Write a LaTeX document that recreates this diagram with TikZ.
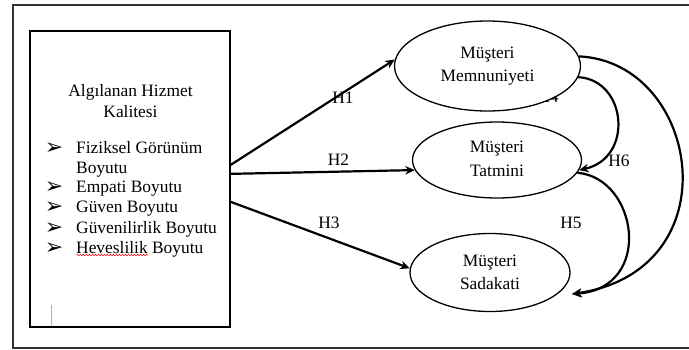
\documentclass[tikz,border=0pt]{standalone}
\usepackage{fontspec}
\setmainfont{Liberation Serif}
\newfontfamily\dejavu{DejaVu Sans}
\usetikzlibrary{shapes.geometric,arrows.meta,decorations.pathmorphing}
\tikzset{
  txt/.style={font=\fontsize{17.4}{20}\selectfont, inner sep=0pt},
  itemtxt/.style={txt, anchor=base west},
  bul/.style={font=\dejavu\fontsize{22}{22}\selectfont, inner sep=0pt, anchor=base},
  hlab/.style={txt},
  construct/.style={ellipse, draw, line width=1.3pt, fill=white, inner sep=0pt,
    align=center, font=\fontsize{17.4}{23}\selectfont},
  link/.style={line width=2.2pt, -{Stealth[length=9.5pt,width=8.5pt]}},
}
\begin{document}
\begin{tikzpicture}[x=1pt,y=-1pt]
\useasboundingbox (0,0) rectangle (689,349);
\clip (0,0) rectangle (689,349);
\fill[white] (0,0) rectangle (689,349);
% outer frame
\draw[line width=1.6pt, black!80] (13,5) rectangle (720,348);
% left box
\node[draw, line width=2pt, minimum width=200pt, minimum height=296pt, inner sep=0pt] (aq) at (129.75,178.85) {};
\draw[gray!60, line width=0.6pt] (51,305) -- (51,326);
\node[txt, align=center, font=\fontsize{17.4}{21}\selectfont] (title) at (130.5,101.5) {Algılanan Hizmet\\Kalitesi};
\node[bul] (b1) at (54,154) {➢};
\node[itemtxt] (t1) at (76,153) {Fiziksel Görünüm};
\node[itemtxt] (t1b) at (76,173) {Boyutu};
\node[bul] (b2) at (54,193) {➢};
\node[itemtxt] (t2) at (76,192) {Empati Boyutu};
\node[bul] (b3) at (54,213) {➢};
\node[itemtxt] (t3) at (76,212) {Güven Boyutu};
\node[bul] (b4) at (54,234) {➢};
\node[itemtxt] (t4) at (76,233) {Güvenilirlik Boyutu};
\node[bul] (b5) at (54,254) {➢};
\node[itemtxt] (t5) at (76,253) {Heveslilik Boyutu};
\draw[red, line width=0.5pt, decorate, decoration={snake, amplitude=0.8pt, segment length=3pt}] (76.5,255) -- (148,255);
% H4 label (mostly hidden by the ellipse)
\node[hlab] (h4) at (548,97) {H4};
% ellipses
\node[construct, minimum width=186pt, minimum height=90pt] (m1) at (487.5,66) {Müşteri\\Memnuniyeti};
\node[construct, minimum width=169pt, minimum height=76pt] (m2) at (497,160) {\raisebox{-4pt}{\begin{tabular}{@{}c@{}}Müşteri\\[1pt]Tatmini\end{tabular}}};
\node[construct, minimum width=160pt, minimum height=78pt] (m3) at (490,272.5) {Müşteri\\Sadakati};
\coordinate (s5) at (572,294);
% straight links
\draw[link] ([yshift=14pt]aq.east) -- (m1.176);
\draw[link] ([yshift=5pt]aq.east) -- (m2.187);
\draw[link] ([yshift=-23pt]aq.east) -- (m3.177);
\node[hlab] (h1) at (343,98) {H1};
\node[hlab] (h2) at (338.5,160) {H2};
\node[hlab] (h3) at (329,223) {H3};
% curved links
\draw[link] (m1.-7) .. controls (627,80) and (634,158) .. (m2.-7);
\draw[link] (m2.-9) .. controls (638,178) and (654,288) .. (s5);
\draw[link] (m1.6) .. controls (700,62) and (734,270) .. (s5);
\node[hlab] (h6) at (619,161) {H6};
\node[hlab] (h5) at (571,223) {H5};
\end{tikzpicture}
\end{document}
